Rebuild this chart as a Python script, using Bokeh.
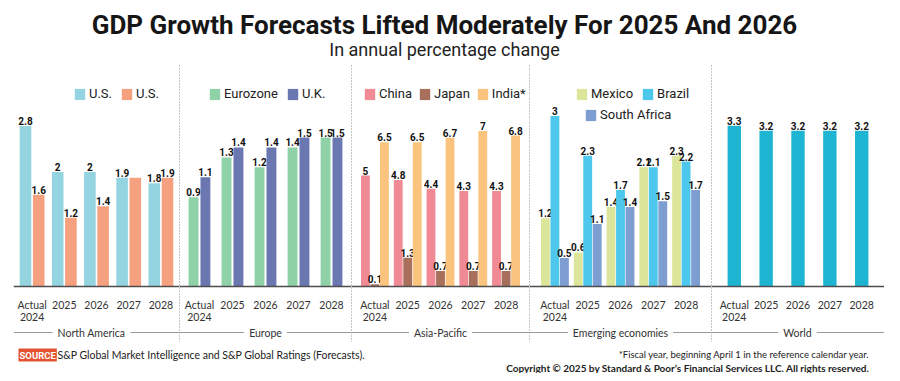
from bokeh.plotting import figure
from bokeh.models import (FactorRange, Range1d, ColumnDataSource, Legend, LegendItem,
                          Label, Span, FixedTicker)
from bokeh.transform import dodge
from bokeh.layouts import column, row
from bokeh.core.properties import value
from bokeh.embed import file_html
from bokeh.resources import INLINE

# ---------------- data ----------------
years = ["Actual\n2024", "2025", "2026", "2027", "2028"]

us = [2.8, 2.0, 2.0, 1.9, 1.8]
us_2 = [1.6, 1.2, 1.4, 1.9, 1.9]
us_2_labels = ["1.6", "1.2", "1.4", "", "1.9"]
eurozone = [0.9, 1.3, 1.2, 1.4, 1.5]
uk = [1.1, 1.4, 1.4, 1.5, 1.5]
china = [5.0, 4.8, 4.4, 4.3, 4.3]
japan = [0.1, 1.3, 0.7, 0.7, 0.7]
india = [6.5, 6.5, 6.7, 7.0, 6.8]
mexico = [1.2, 0.6, 1.4, 2.1, 2.3]
brazil = [3.0, 2.3, 1.7, 2.1, 2.2]
south_africa = [0.5, 1.1, 1.4, 1.5, 1.7]
world = [3.3, 3.2, 3.2, 3.2, 3.2]

group_names = ["North America", "Europe", "Asia-Pacific", "Emerging economies", "World"]

title_text = "GDP Growth Forecasts Lifted Moderately For 2025 And 2026"
subtitle_text = "In annual percentage change"
source_text = "S&P Global Market Intelligence and S&P Global Ratings (Forecasts)."
note_text = "*Fiscal year, beginning April 1 in the reference calendar year."
copyright_text = "Copyright \u00a9 2025 by Standard & Poor\u2019s Financial Services LLC. All rights reserved."


def fmt(v):
    return f"{v:g}"


# ---------------- layout constants ----------------
H = 278          # panel height
BASE = 222       # px from panel top to the zero line
GROUP_Y = 10     # px from panel bottom to group label centre


def make_panel(series, group, width, left, k, pad, bw, offs, legends, group_x, sep):
    p = figure(width=width, height=H,
               x_range=FactorRange(*years, range_padding=pad, range_padding_units="absolute"),
               y_range=Range1d(-(H - BASE) / k, BASE / k),
               output_backend="svg", toolbar_location=None,
               min_border_left=left, min_border_right=0, min_border_top=0, min_border_bottom=0,
               outline_line_color=None, background_fill_color="white", border_fill_color="white")
    p.xgrid.visible = False
    p.ygrid.visible = False

    ax = p.xaxis[0]
    ax.fixed_location = 0
    ax.major_tick_line_color = None
    ax.minor_tick_line_color = None
    ax.axis_line_color = "#4d4d4d"
    ax.axis_line_width = 1.3
    ax.major_label_standoff = 6
    ax.major_label_text_font = "Lato"
    ax.major_label_text_font_size = "10.5px"
    ax.major_label_text_color = "#333333"
    ax.major_label_text_align = "center"
    ax.major_label_text_line_height = 1.0

    ya = p.yaxis[0]
    if sep:
        ya.ticker = FixedTicker(ticks=[])
        ya.major_tick_out = 0
        ya.major_tick_in = 0
        ya.minor_tick_out = 0
        ya.minor_tick_in = 0
        ya.major_label_standoff = 0
        ya.major_label_text_font_size = "0px"
        ya.axis_line_color = "#8a8a8a"
        ya.axis_line_dash = "1 2"
    else:
        ya.visible = False

    items = []
    for (name, vals, labels, color), off in zip(series, offs):
        src = ColumnDataSource(dict(x=years, y=vals, t=labels))
        r = p.vbar(x=dodge("x", off, range=p.x_range), top="y", bottom=0, width=bw,
                   source=src, fill_color=color, line_color=None)
        p.text(x=dodge("x", off, range=p.x_range), y="y", text="t", source=src,
               text_align="center", text_baseline="bottom", y_offset=-1,
               text_font=value("Roboto"), text_font_style="bold",
               text_font_size="10px", text_color="#111111")
        items.append(LegendItem(label=name, renderers=[r]))

    for idxs, loc, spacing in legends:
        lg = Legend(items=[items[i] for i in idxs], location=loc, orientation="horizontal",
                    glyph_width=13, glyph_height=14, label_standoff=3, spacing=spacing,
                    padding=0, margin=0, label_height=14, label_width=10,
                    background_fill_alpha=0, border_line_color=None,
                    label_text_font="Roboto", label_text_font_size="13px",
                    label_text_color="#222222")
        p.add_layout(lg)

    p.add_layout(Span(location=GROUP_Y, location_units="screen", dimension="width",
                      line_color="#9a9a9a", line_width=1))
    p.add_layout(Label(x=group_x, y=GROUP_Y, x_units="screen", y_units="screen", text=group,
                       text_align="center", text_baseline="middle", text_font="Lato",
                       text_font_size="10.5px", text_color="#333333",
                       background_fill_color="white", padding=5))
    return p


p1 = make_panel([("U.S.", us, [fmt(v) for v in us], "#93d4e0"),
                 ("U.S.", us_2, us_2_labels, "#f5a07f")],
                group_names[0], 179, 13, 57.3, 0.078, 0.36, [-0.205, 0.205],
                [([0, 1], (60, 241), 8)], 78, False)
p2 = make_panel([("Eurozone", eurozone, [fmt(v) for v in eurozone], "#8fd2a8"),
                 ("U.K.", uk, [fmt(v) for v in uk], "#6a77b0")],
                group_names[1], 172, 0, 99.3, 0.105, 0.30, [-0.18, 0.18],
                [([0, 1], (29, 241), 8)], 86, True)
p3 = make_panel([("China", china, [fmt(v) for v in china], "#f08b95"),
                 ("Japan", japan, [fmt(v) for v in japan], "#a8705c"),
                 ("India*", india, [fmt(v) for v in india], "#fac47f")],
                group_names[2], 178, 0, 22.2, 0.215, 0.27, [-0.29, 0, 0.29],
                [([0, 1, 2], (12, 241), 6)], 89, True)
p4 = make_panel([("Mexico", mexico, [fmt(v) for v in mexico], "#dce69a"),
                 ("Brazil", brazil, [fmt(v) for v in brazil], "#4dc7eb"),
                 ("South Africa", south_africa, [fmt(v) for v in south_africa], "#7e9ed2")],
                group_names[3], 182, 0, 56.8, 0.275, 0.27, [-0.29, 0, 0.29],
                [([0, 1], (46, 241), 8), ([2], (55, 220), 8)], 91, True)
p5 = make_panel([("World", world, [fmt(v) for v in world], "#1db5d1")],
                group_names[4], 173, 0, 48.7, 0.215, 0.42, [0],
                [], 86, True)


def blank(w, h):
    f = figure(width=w, height=h, x_range=Range1d(0, 1), y_range=Range1d(0, 1),
               output_backend="svg", toolbar_location=None, min_border=0,
               outline_line_color=None, background_fill_color="white", border_fill_color="white")
    f.axis.visible = False
    f.grid.visible = False
    return f


HDR_H = 64
hdr = blank(884, HDR_H)
hdr.add_layout(Label(x=444, y=HDR_H - 24.5, x_units="screen", y_units="screen", text=title_text,
                     text_align="center", text_baseline="alphabetic", text_font="Roboto",
                     text_font_style="bold", text_font_size="26px", text_color="#161616"))
hdr.add_layout(Label(x=444, y=HDR_H - 48.5, x_units="screen", y_units="screen", text=subtitle_text,
                     text_align="center", text_baseline="alphabetic", text_font="Roboto",
                     text_font_size="18px", text_color="#222222"))

FTR_H = 31
ftr = blank(884, FTR_H)
ftr.add_layout(Label(x=18, y=FTR_H - 12.5, x_units="screen", y_units="screen", text="SOURCE",
                     text_align="left", text_baseline="middle", text_font="Roboto",
                     text_font_style="bold", text_font_size="9.5px", text_color="white",
                     background_fill_color="#e4532f", padding=1))
ftr.add_layout(Label(x=57, y=FTR_H - 12.5, x_units="screen", y_units="screen", text=source_text,
                     text_align="left", text_baseline="middle", text_font="Lato",
                     text_font_size="10.5px", text_color="#222222"))
ftr.add_layout(Label(x=869, y=FTR_H - 12, x_units="screen", y_units="screen", text=note_text,
                     text_align="right", text_baseline="middle", text_font="Lato",
                     text_font_size="9.5px", text_color="#222222"))
ftr.add_layout(Label(x=869, y=FTR_H - 25, x_units="screen", y_units="screen", text=copyright_text,
                     text_align="right", text_baseline="middle", text_font="Lato",
                     text_font_style="bold", text_font_size="10px", text_color="#222222"))

layout = column(hdr, row(p1, p2, p3, p4, p5), ftr)

with open("out.html", "w") as f:
    f.write(file_html(layout, INLINE))
